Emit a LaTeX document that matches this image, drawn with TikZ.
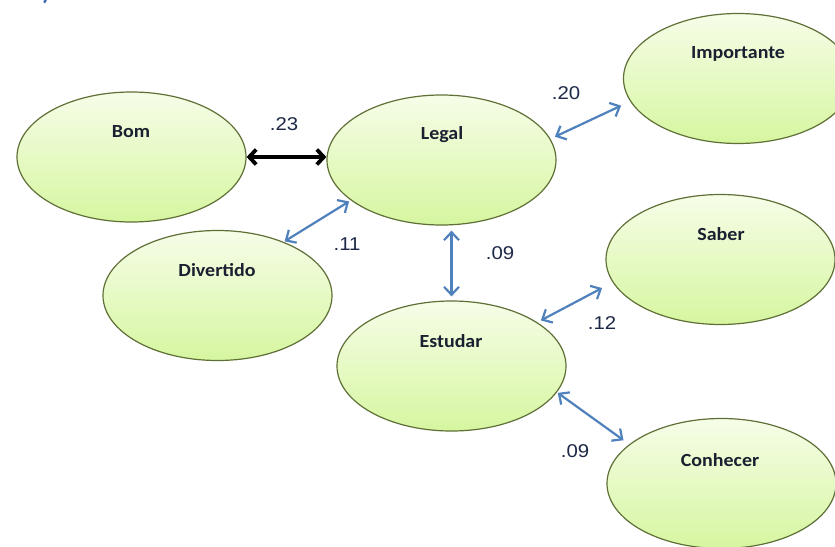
\documentclass[tikz,border=0pt]{standalone}
\usepackage{fontspec}
\setmainfont{Carlito}[FakeStretch=1.08]
\newfontfamily\numfont{Liberation Sans}[FakeStretch=1.1]
\usetikzlibrary{shapes.geometric,arrows.meta}
\definecolor{ellborder}{RGB}{95,112,55}
\definecolor{elltop}{RGB}{246,253,232}
\definecolor{ellbot}{RGB}{214,246,160}
\definecolor{arrblue}{RGB}{79,129,189}
\definecolor{lbltext}{RGB}{26,32,48}
\definecolor{numtext}{RGB}{30,40,72}
\definecolor{titleblue}{RGB}{60,100,180}
\tikzset{
  latent/.style={ellipse, draw=ellborder, line width=1.2pt, top color=elltop, bottom color=ellbot,
    minimum width=229pt, minimum height=130pt, inner sep=0pt},
  lbl/.style={font=\fontsize{18.5}{20}\selectfont\bfseries, text=lbltext, inner sep=0pt},
  num/.style={font=\numfont\fontsize{18.5}{20}\selectfont, text=numtext, inner sep=0pt},
  corr/.style={draw=arrblue, line width=2.2pt, {Straight Barb[length=8pt,width=15pt,line width=2.2pt]}-{Straight Barb[length=8pt,width=15pt,line width=2.2pt]}},
  corrbold/.style={draw=black, line width=3.8pt, {Straight Barb[length=7pt,width=15pt]}-{Straight Barb[length=7pt,width=15pt]}}
}
\begin{document}
\begin{tikzpicture}[x=1pt,y=-1pt]
\clip (0,0) rectangle (835,546);
\fill[white] (0,0) rectangle (835,546);
\node[font=\fontsize{22}{24}\selectfont\bfseries, text=titleblue, anchor=base east, inner sep=0pt] (title) at (50,1) {2)};
% latent variables
\node[latent] (bom) at (131.5,157) {};
\node[latent] (legal) at (441.5,160) {};
\node[latent] (imp) at (738,78.5) {};
\node[latent] (div) at (217.5,295.5) {};
\node[latent] (saber) at (720.5,259.5) {};
\node[latent] (est) at (451.5,366) {};
\node[latent] (con) at (721.5,483.5) {};
% labels
\node[lbl] (bomt) at (131,132) {Bom};
\node[lbl] (legalt) at (442,135) {Legal};
\node[lbl] (impt) at (738,54) {Importante};
\node[lbl] (divt) at (217,270) {Divertido};
\node[lbl] (sabert) at (721,234) {Saber};
\node[lbl] (estt) at (451,341) {Estudar};
\node[lbl] (cont) at (720,460) {Conhecer};
% connectors
\draw[corrbold] (bom.east) -- (bom.east -| legal.west);
\draw[corr, shorten <=5pt, shorten >=10pt] (legal.11) -- (imp.192.9);
\draw[corr, shorten <=2pt, shorten >=1pt] (legal.204.8) -- (div.39.2);
\draw[corr, shorten <=5pt, shorten >=4pt] (legal.south -| est.north) -- (est.north);
\draw[corr, shorten <=4pt, shorten >=12pt] (est.27.5) -- (saber.192.6);
\draw[corr, shorten <=1pt, shorten >=7pt] (est.-14.6) -- (con.157.4);
% coefficients
\node[num] (c1) at (284,124) {.23};
\node[num] (c2) at (566,93.5) {.20};
\node[num] (c3) at (347,244) {.11};
\node[num] (c4) at (500,253.5) {.09};
\node[num] (c5) at (602,323.5) {.12};
\node[num] (c6) at (575,451.5) {.09};
\end{tikzpicture}
\end{document}
